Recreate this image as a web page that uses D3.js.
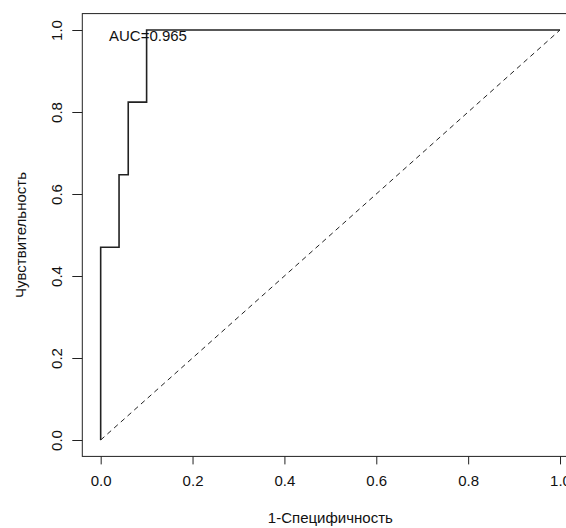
<!DOCTYPE html>
<html>
<head>
<meta charset="utf-8">
<script src="https://cdn.jsdelivr.net/npm/d3@7"></script>
<style>
  html, body { margin: 0; padding: 0; background: #fff; overflow: hidden; }
</style>
</head>
<body>
<script>
// ROC curve points (1 - specificity, sensitivity)
const fpr = [0, 0, 0.04, 0.06, 0.10, 1];
const tpr = [0, 0.47, 0.647, 0.824, 1, 1];
const ticks = [0, 0.2, 0.4, 0.6, 0.8, 1.0];
const aucLabel = "AUC=0.965";
const xTitle = "1-Специфичность";
const yTitle = "Чувствительность";

const width = 566, height = 528;

const svg = d3.select("body")
  .append("svg")
  .attr("width", width)
  .attr("height", height)
  .attr("font-family", "'Liberation Sans', Arial, sans-serif")
  .attr("font-size", 15);

// data range padded 4% like R
const x = d3.scaleLinear().domain([-0.04, 1.04]).range([82.3, 578.4]);
const y = d3.scaleLinear().domain([-0.04, 1.04]).range([456.4, 13.6]);

// plot box
svg.append("rect")
  .attr("x", x(-0.04))
  .attr("y", y(1.04))
  .attr("width", x(1.04) - x(-0.04))
  .attr("height", y(-0.04) - y(1.04))
  .attr("fill", "none")
  .attr("stroke", "#222")
  .attr("stroke-width", 1);

// x axis
const xAxis = svg.append("g")
  .attr("transform", `translate(0,${y(-0.04)})`)
  .call(d3.axisBottom(x).tickValues(ticks).tickFormat(d3.format(".1f")).tickSize(8).tickPadding(11));
xAxis.select(".domain").remove();
xAxis.selectAll("text").attr("font-size", 15).attr("fill", "#111").attr("font-family", "'Liberation Sans', Arial, sans-serif");
xAxis.selectAll("line").attr("stroke", "#222");

// y axis
const yAxis = svg.append("g")
  .attr("transform", `translate(${x(-0.04)},0)`)
  .call(d3.axisLeft(y).tickValues(ticks).tickFormat(d3.format(".1f")).tickSize(10));
yAxis.select(".domain").remove();
yAxis.selectAll("line").attr("stroke", "#222");
yAxis.selectAll("text")
  .attr("font-size", 15)
  .attr("fill", "#111")
  .attr("font-family", "'Liberation Sans', Arial, sans-serif")
  .attr("x", null).attr("dy", null)
  .attr("text-anchor", "middle")
  .attr("transform", "translate(-20,0) rotate(-90)");

// diagonal reference
svg.append("line")
  .attr("x1", x(0)).attr("y1", y(0))
  .attr("x2", x(1)).attr("y2", y(1))
  .attr("stroke", "#222")
  .attr("stroke-width", 1)
  .attr("stroke-dasharray", "5,4");

// ROC step line
const line = d3.line()
  .x((d, i) => x(fpr[i]))
  .y((d, i) => y(tpr[i]))
  .curve(d3.curveStepAfter);

svg.append("path")
  .attr("d", line(fpr))
  .attr("fill", "none")
  .attr("stroke", "#222")
  .attr("stroke-width", 1.6);

// AUC label
svg.append("text")
  .attr("x", x(0.103))
  .attr("y", y(0.985))
  .attr("dy", "0.35em")
  .attr("text-anchor", "middle")
  .attr("fill", "#111")
  .text(aucLabel);

// axis titles
svg.append("text")
  .attr("x", (x(-0.04) + x(1.04)) / 2)
  .attr("y", 523)
  .attr("text-anchor", "middle")
  .attr("fill", "#111")
  .text(xTitle);

svg.append("text")
  .attr("transform", `translate(26,${(y(-0.04) + y(1.04)) / 2}) rotate(-90)`)
  .attr("text-anchor", "middle")
  .attr("fill", "#111")
  .text(yTitle);
</script>
</body>
</html>
